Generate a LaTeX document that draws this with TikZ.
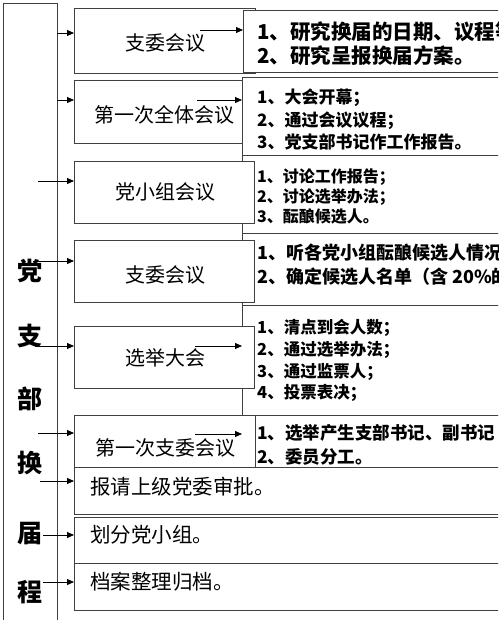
\documentclass[tikz,border=0pt]{standalone}
\usepackage{fontspec}
\setmainfont{Noto Sans CJK SC}
\usetikzlibrary{arrows.meta}
\begin{document}
\begin{tikzpicture}[x=1pt,y=-1pt,
  bx/.style={draw=black!75,line width=0.9pt,fill=white,inner sep=0pt,anchor=north west},
  arr/.style={-{Triangle[length=7pt,width=6pt]},line width=0.8pt,black},
  ttl/.style={inner sep=0pt,font=\fontsize{20}{20}\selectfont},
  ttlw/.style={inner sep=0pt,anchor=west,font=\fontsize{20.5}{20}\selectfont},
  col/.style={inner sep=0pt,font=\fontsize{25}{25}\selectfont\bfseries},
  rt/.style={inner sep=0pt,anchor=west,font=\fontsize{#1}{#1}\selectfont\bfseries}]
\useasboundingbox (0,0) rectangle (498,620);
\clip (0,0) rectangle (498,620);
% boxes
\node[bx,minimum width=181pt,minimum height=65pt] (b1) at (74,8) {};
\node[bx,minimum width=262pt,minimum height=62pt] (r1) at (243,10) {};
\node[bx,minimum width=263pt,minimum height=78pt] (r2) at (242,77) {};
\node[bx,minimum width=168pt,minimum height=63pt] (b2) at (74,80) {};
\node[bx,minimum width=263pt,minimum height=78pt] (r3) at (242,155) {};
\node[bx,minimum width=180pt,minimum height=62pt] (b3) at (74,161) {};
\node[bx,minimum width=263pt,minimum height=72pt] (r4) at (242,233) {};
\node[bx,minimum width=180pt,minimum height=62pt] (b4) at (74,240) {};
\node[bx,minimum width=263pt,minimum height=110pt] (r5) at (242,305) {};
\node[bx,minimum width=180pt,minimum height=62pt] (b5) at (74,326) {};
\node[bx,minimum width=181pt,minimum height=52pt] (b6) at (74,415) {};
\node[bx,minimum width=250pt,minimum height=52pt] (r6) at (255,415) {};
\node[bx,minimum width=431pt,minimum height=47pt] (b7) at (74,467) {};
\node[bx,minimum width=431pt,minimum height=46pt] (b8) at (74,517) {};
\node[bx,minimum width=431pt,minimum height=47pt] (b9) at (74,563) {};
\node[bx,minimum width=54pt,minimum height=625pt] (lb) at (3,3) {};
% column text
\node[col] (c1) at (30,271) {党};
\node[col] (c2) at (30,336) {支};
\node[col] (c3) at (30,399) {部};
\node[col] (c4) at (30,463) {换};
\node[col] (c5) at (30,534) {届};
\node[col] (c6) at (30,592) {程};
% titles
\node[ttl] (t1) at (165,43) {支委会议};
\node[ttl] (t2) at (164,115) {第一次全体会议};
\node[ttl] (t3) at (165,192) {党小组会议};
\node[ttl] (t4) at (165,275) {支委会议};
\node[ttl] (t5) at (165,358) {选举大会};
\node[ttl] (t6) at (165,448) {第一次支委会议};
\node[ttlw] (t7) at (90,487) {报请上级党委审批。};
\node[ttlw] (t8) at (90,535) {划分党小组。};
\node[ttlw] (t9) at (90,582) {档案整理归档。};
% right texts
\node[rt=20.5] (r1a) at (257,32) {1、研究换届的日期、议程等};
\node[rt=20.5] (r1b) at (257,56) {2、研究呈报换届方案。};
\node[rt=17] (r2a) at (257,98) {1、大会开幕；};
\node[rt=17] (r2b) at (257,121) {2、通过会议议程；};
\node[rt=17] (r2c) at (257,142) {3、党支部书记作工作报告。};
\node[rt=16] (r3a) at (257,177) {1、讨论工作报告；};
\node[rt=16] (r3b) at (257,197) {2、讨论选举办法；};
\node[rt=16] (r3c) at (257,216) {3、酝酿候选人。};
\node[rt=18] (r4a) at (257,253) {1、听各党小组酝酿候选人情况};
\node[rt=18] (r4b) at (257,277) {2、确定候选人名单（含 20\%的};
\node[rt=16.5] (r5a) at (257,328) {1、清点到会人数；};
\node[rt=16.5] (r5b) at (257,350) {2、通过选举办法；};
\node[rt=16.5] (r5c) at (257,372) {3、通过监票人；};
\node[rt=16.5] (r5d) at (257,393) {4、投票表决；};
\node[rt=17.5] (r6a) at (257,433) {1、选举产生支部书记、副书记};
\node[rt=17.5] (r6b) at (257,457) {2、委员分工。};
% arrow starts
\coordinate (s1) at (57,33);
\coordinate (s2) at (57,100);
\coordinate (s3) at (38,181);
\coordinate (s4) at (33,261);
\coordinate (s5) at (35,346);
\coordinate (s6) at (38,433);
\coordinate (s7) at (40,481);
\coordinate (s8) at (43,535);
\coordinate (s9) at (43,582);
\coordinate (i1) at (200,30);
\coordinate (i2) at (197,100);
\coordinate (i5) at (195,346);
\coordinate (i6) at (195,434);
\draw[arr] (s1) -- (s1 -| b1.west);
\draw[arr] (s2) -- (s2 -| b2.west);
\draw[arr] (s3) -- (s3 -| b3.west);
\draw[arr] (s4) -- (s4 -| b4.west);
\draw[arr] (s5) -- (s5 -| b5.west);
\draw[arr] (s6) -- (s6 -| b6.west);
\draw[arr] (s7) -- (s7 -| b7.west);
\draw[arr] (s8) -- (s8 -| b8.west);
\draw[arr] (s9) -- (s9 -| b9.west);
\draw[arr] (i1) -- (i1 -| r1.west);
\draw[arr] (i2) -- (i2 -| r2.west);
\draw[arr] (i5) -- (i5 -| r5.west);
\draw[arr] (i6) -- (i6 -| r5.west);
\end{tikzpicture}
\end{document}
